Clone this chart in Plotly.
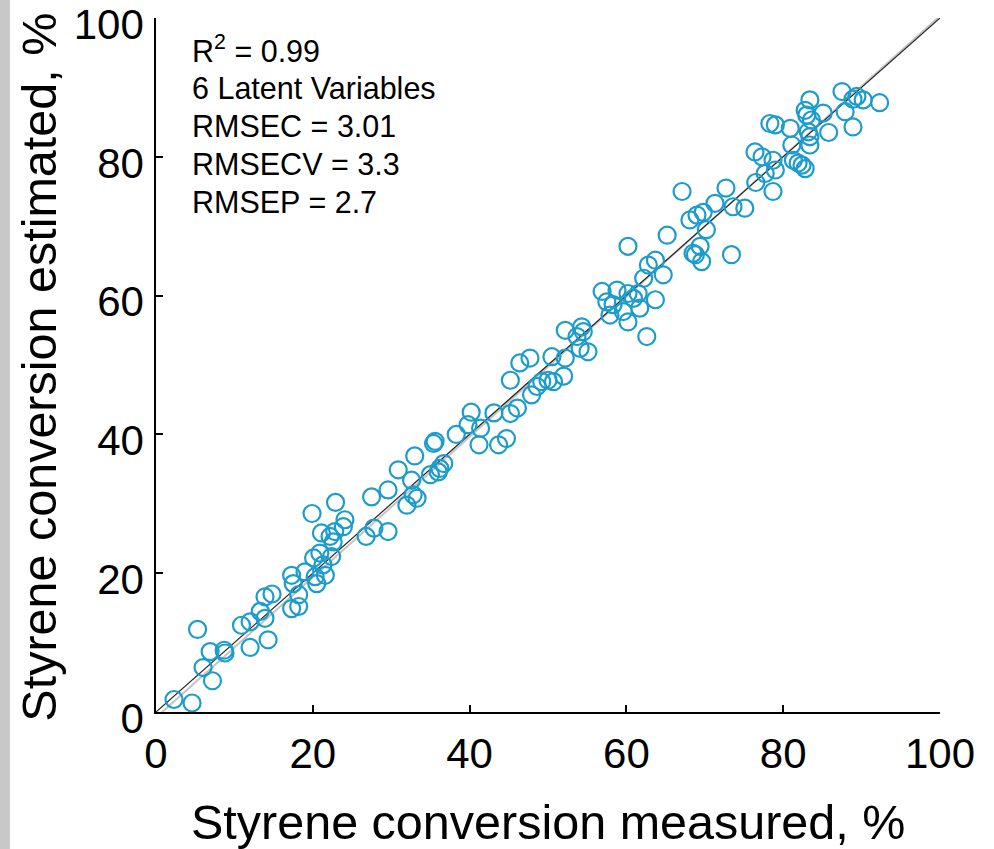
import plotly.graph_objects as go

# styrene conversion (%) measured vs PLS estimate
measured = [
    2.3, 4.6, 5.3, 6.9, 8.7, 8.8, 6.0, 7.2, 10.9, 12.0, 12.0, 13.3, 13.9, 14.3, 13.9,
    14.8, 17.3, 17.5, 17.3, 18.2, 18.2, 19.0, 20.3, 20.5, 21.6, 21.3, 20.1, 20.9, 22.4,
    22.6, 19.9, 22.9, 21.1, 22.2, 24.1, 23.9, 22.8, 27.5, 29.6, 26.8, 27.8, 29.6, 30.9,
    33.0, 32.6, 32.0, 33.3, 32.8, 35.0, 35.4, 35.6, 36.2, 36.7, 36.0, 38.3, 40.2, 39.8,
    41.2, 41.4, 43.1, 43.7, 44.7, 45.2, 46.1, 45.2, 46.4, 47.7, 47.9, 48.6, 49.2, 50.0,
    50.7, 52.0, 50.5, 52.2, 52.2, 53.7, 54.3, 54.5, 54.1, 55.1, 56.9, 57.5, 58.8, 58.3,
    57.9, 59.6, 60.2, 60.9, 61.5, 60.2, 61.7, 62.6, 63.7, 60.2, 62.2, 62.8, 63.7, 64.7,
    65.2, 67.1, 68.1, 69.0, 69.8, 70.2, 68.5, 69.4, 68.8, 69.6, 71.3, 72.7, 73.6, 75.1,
    73.4, 76.5, 78.7, 76.4, 77.3, 78.7, 77.7, 79.0, 78.3, 79.0, 80.9, 81.1, 81.3, 81.9,
    82.8, 82.4, 83.4, 82.8, 83.0, 83.6, 85.1, 83.4, 83.2, 83.4, 85.8, 87.5, 88.9, 89.4,
    90.2, 87.9, 88.9, 92.3,
]
estimated = [
    1.8, 1.3, 11.9, 8.7, 8.9, 8.5, 6.4, 4.5, 12.5, 13.0, 9.3, 14.5, 13.5, 10.4, 16.6,
    17.0, 19.7, 18.5, 14.9, 15.2, 16.9, 20.2, 19.5, 18.5, 19.7, 21.2, 22.2, 22.9, 22.4,
    24.5, 28.6, 30.2, 25.8, 25.3, 27.7, 26.7, 26.0, 31.0, 32.0, 25.3, 26.5, 26.0, 34.9,
    36.9, 33.4, 29.8, 30.8, 31.3, 34.2, 38.7, 39.0, 35.1, 35.8, 34.6, 40.0, 43.2, 41.4,
    38.5, 40.9, 43.1, 38.5, 39.4, 43.0, 43.8, 47.8, 50.3, 51.0, 45.7, 46.9, 47.6, 47.8,
    47.6, 48.4, 51.2, 51.0, 55.0, 54.1, 55.5, 54.8, 52.4, 51.9, 60.6, 59.1, 60.8, 58.7,
    57.2, 57.7, 60.3, 59.6, 60.3, 56.2, 58.2, 54.1, 59.4, 67.1, 62.5, 64.4, 65.1, 63.0,
    68.7, 75.0, 70.9, 71.6, 72.0, 69.5, 66.1, 67.1, 65.9, 64.9, 73.3, 75.5, 72.8, 72.6,
    65.9, 76.3, 75.0, 80.7, 80.0, 79.5, 77.6, 78.1, 84.8, 84.6, 84.1, 81.7, 79.5, 79.1,
    78.3, 78.8, 88.2, 86.7, 86.0, 85.3, 86.3, 82.9, 83.6, 81.7, 83.5, 89.4, 88.3, 88.7,
    88.2, 86.5, 84.3, 87.8,
]

# 1:1 line and fitted line
ideal_x = [0, 100]
ideal_y = [0, 100]
fit_x = [0, 100]
fit_y = [-0.8, 100.3]

stats = ['R<sup>2</sup> = 0.99', '6 Latent Variables', 'RMSEC = 3.01',
         'RMSECV = 3.3', 'RMSEP = 2.7']
ticks = [0, 20, 40, 60, 80, 100]
xtitulo = 'Styrene conversion measured, %'
ytitulo = 'Styrene conversion estimated, %'

FONT = 'Liberation Sans, Arial, sans-serif'
AZUL = 'rgb(28,156,204)'

fig = go.Figure()
fig.add_trace(go.Scatter(x=fit_x, y=fit_y, mode='lines',
                         line=dict(color='#c4c4c4', width=2), hoverinfo='skip'))
fig.add_trace(go.Scatter(x=ideal_x, y=ideal_y, mode='lines',
                         line=dict(color='#222222', width=1.2), hoverinfo='skip'))
fig.add_trace(go.Scatter(
    x=measured, y=estimated, mode='markers', cliponaxis=False,
    marker=dict(symbol='circle-open', size=17, color=AZUL, line=dict(width=2.2, color=AZUL)),
))

eje = dict(range=[0, 100], tickvals=ticks, ticks='inside', ticklen=7, tickwidth=1.5,
           tickcolor='black', showline=True, linecolor='black', linewidth=1.5,
           showgrid=False, zeroline=False, automargin=False, ticklabeloverflow='allow',
           tickfont=dict(size=42, color='black'))

# una anotación por línea: el interlineado del original es más apretado que el de plotly
anot = []
for i, linea in enumerate(stats):
    anot.append(dict(text=linea, xref='paper', yref='paper', x=0.043,
                     y=(712 - 49.5 - 38.2 * i) / 694, xanchor='left', yanchor='middle',
                     align='left', showarrow=False, font=dict(size=30.5, color='black')))

anot += [
    dict(text=xtitulo, xref='paper', yref='paper', x=0.4994, y=-0.1585,
         xanchor='center', yanchor='middle', showarrow=False, font=dict(size=48.5)),
    dict(text=ytitulo, xref='paper', yref='paper', x=-0.149, y=0.4964,
         xanchor='center', yanchor='middle', textangle=-90, showarrow=False,
         font=dict(size=48.5)),
]

fig.update_layout(
    width=994, height=849, showlegend=False,
    margin=dict(l=156, r=54, t=18, b=137),
    paper_bgcolor='white', plot_bgcolor='white',
    font=dict(family=FONT, color='black'),
    xaxis=dict(**eje, ticklabelstandoff=4),
    # etiquetas del eje y un poco por debajo de su marca, como en el original
    yaxis=dict(**eje, ticklabelstandoff=2, ticklabelshift=6),
    annotations=anot,
    # franja gris del borde izquierdo
    shapes=[dict(type='rect', xref='paper', yref='paper',
                 x0=-156 / 784, x1=-146 / 784, y0=-137 / 694, y1=712 / 694 + 0.2,
                 fillcolor='#c8c8c8', line=dict(width=0), layer='below')],
)

# quitar el margen por defecto del body para que el lienzo empiece en (0, 0)
fig.write_html("out.html", config={'displayModeBar': False},
               post_script="document.body.style.margin='0';")
